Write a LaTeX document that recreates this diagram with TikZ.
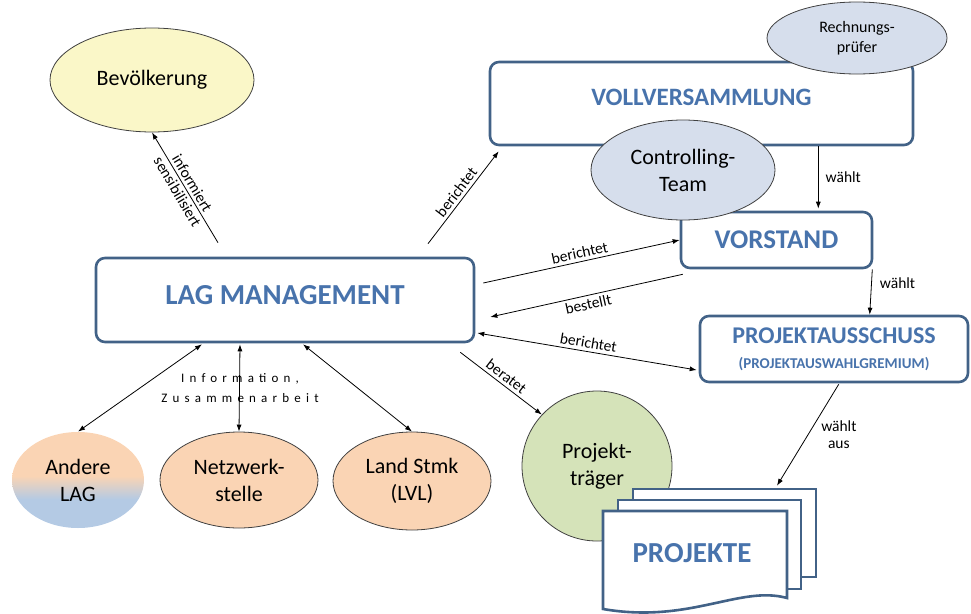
\documentclass[tikz,border=0pt]{standalone}
\usepackage{fontspec}
\setmainfont{Carlito}
\newfontfamily\spacedfont[LetterSpace=40]{Carlito}
\usetikzlibrary{shapes.geometric, arrows.meta, calc}

\definecolor{boxline}{RGB}{66,98,135}
\definecolor{titleblue}{RGB}{72,115,172}
\definecolor{yellowfill}{RGB}{250,247,200}
\definecolor{greyblue}{RGB}{214,222,236}
\definecolor{peach}{RGB}{250,212,180}
\definecolor{lightblue}{RGB}{180,202,228}
\definecolor{greenfill}{RGB}{213,227,185}
\pgfdeclareverticalshading{peachblue}{100bp}{color(0bp)=(lightblue); color(40bp)=(lightblue); color(52bp)=(peach); color(100bp)=(peach)}

\begin{document}
\begin{tikzpicture}[
        x=1pt, y=-1pt,
        box/.style={rectangle, rounded corners=9pt, draw=boxline, line width=2.6pt, fill=white, text=titleblue, align=center},
        bubble/.style={ellipse, draw=black!75, line width=0.8pt, align=center, inner sep=0pt, font=\fontsize{22}{27}\selectfont},
        page/.style={rectangle, draw=boxline, line width=2.6pt, fill=white, inner sep=0pt},
        lbl/.style={font=\fontsize{15.5}{17}\selectfont, inner sep=3pt},
        arr/.style={-{Latex[length=7pt,width=5pt]}, line width=0.8pt},
        darr/.style={{Latex[length=7pt,width=5pt]}-{Latex[length=7pt,width=5pt]}, line width=0.8pt}
    ]
    \useasboundingbox (0,0) rectangle (971,613);

    % Boxes
    \node[box, minimum width=423pt, minimum height=83pt, text depth=12pt, font=\bfseries\fontsize{25}{29}\selectfont] (voll) at (701.5,103.5) {VOLLVERSAMMLUNG};
    \node[bubble, fill=greyblue, minimum width=180pt, minimum height=72pt, font=\fontsize{16}{20}\selectfont] (rech) at (857,38) {Rechnungs-\\prüfer};
    \node[box, minimum width=191pt, minimum height=56pt, font=\bfseries\fontsize{27}{30}\selectfont] (vor) at (776.5,240) {VORSTAND};
    \node[bubble, fill=greyblue, minimum width=184pt, minimum height=100pt] (ctrl) at (683,170) {Controlling-\\Team};
    \node[box, minimum width=268pt, minimum height=66pt, font=\bfseries\fontsize{24}{27}\selectfont] (aus) at (834,349) {PROJEKTAUSSCHUSS\\[-2pt]{\fontsize{15}{17}\selectfont (PROJEKTAUSWAHLGREMIUM)}};
    \node[box, minimum width=378pt, minimum height=84pt, text depth=10pt, font=\bfseries\fontsize{29}{33}\selectfont] (lag) at (285,300) {LAG MANAGEMENT};

    % Ellipses
    \node[bubble, fill=yellowfill, minimum width=204pt, minimum height=104pt] (bev) at (152,80) {Bevölkerung};
    \node[bubble, draw=none, shading=peachblue, minimum width=132pt, minimum height=96pt] (andere) at (78,480) {Andere\\LAG};
    \node[bubble, fill=peach, minimum width=158pt, minimum height=96pt] (netz) at (239,480) {Netzwerk-\\stelle};
    \node[bubble, fill=peach, minimum width=158pt, minimum height=98pt] (land) at (412,481) {Land Stmk\\(LVL)};
    \node[bubble, circle, fill=greenfill, minimum size=150pt] (ptr) at (597,466) {Projekt-\\träger};

    % Projekte
    \node[page, minimum width=183pt, minimum height=88pt] (pg3) at (724.5,533) {};
    \node[page, minimum width=183pt, minimum height=89pt] (pg2) at (709.5,544.5) {};
    \draw[page] (603,511) -- (787,511) -- (787,598) .. controls (740,585) and (690,624) .. (603,609) -- cycle;
    \node[text=titleblue, font=\bfseries\fontsize{29}{33}\selectfont] (proj) at (692,553) {PROJEKTE};

    % Connections
    \draw[arr] ($(lag.north)+(-67,-14)$) -- node[lbl, rotate=-59.4, align=center] {informiert\\sensibilisiert} (bev.south);
    \draw[arr] ($(lag.north)+(143,-13)$) -- node[lbl, above, sloped] {berichtet} ($(voll.south west)+(10,5)$);
    \draw[arr] ($(lag.east)+(8,-17)$) -- node[lbl, above, sloped] {berichtet} (vor.west);
    \draw[arr] ($(vor.south west)+(3,5)$) -- node[lbl, below, sloped] {bestellt} ($(lag.east)+(15,17)$);
    \draw[darr] ($(lag.east)+(2,33)$) -- node[lbl, above, sloped] {berichtet} ($(aus.west)+(-2,21)$);
    \draw[arr] ($(lag.south east)+(-15,9)$) -- node[lbl, above, sloped] {beratet} (ptr.137);
    \draw[arr] ($(voll.south east)+(-96,0)$) -- node[lbl, right, xshift=4] {wählt} ($(vor.north east)+(-55,-2)$);
    \draw[arr] ($(vor.south east)+(-1,0)$) -- node[lbl, right, pos=0.3, xshift=5] {wählt} ($(aus.north west)+(171,0)$);
    \draw[arr] ($(aus.south west)+(140,1)$) -- node[lbl, right, align=center, xshift=10] {wählt\\aus} ($(pg3.north)+(52.5,-2)$);

    \draw[darr] ($(lag.south)+(-83,1)$) -- (andere.north);
    \draw[darr] ($(lag.south)+(-45,1)$) -- (netz.north);
    \draw[darr] ($(lag.south)+(18,1)$) -- (land.north);
    \node[align=center, font=\spacedfont\fontsize{13}{20}\selectfont] (info) at (240,388) {Information,\\Zusammenarbeit};

\end{tikzpicture}
\end{document}
